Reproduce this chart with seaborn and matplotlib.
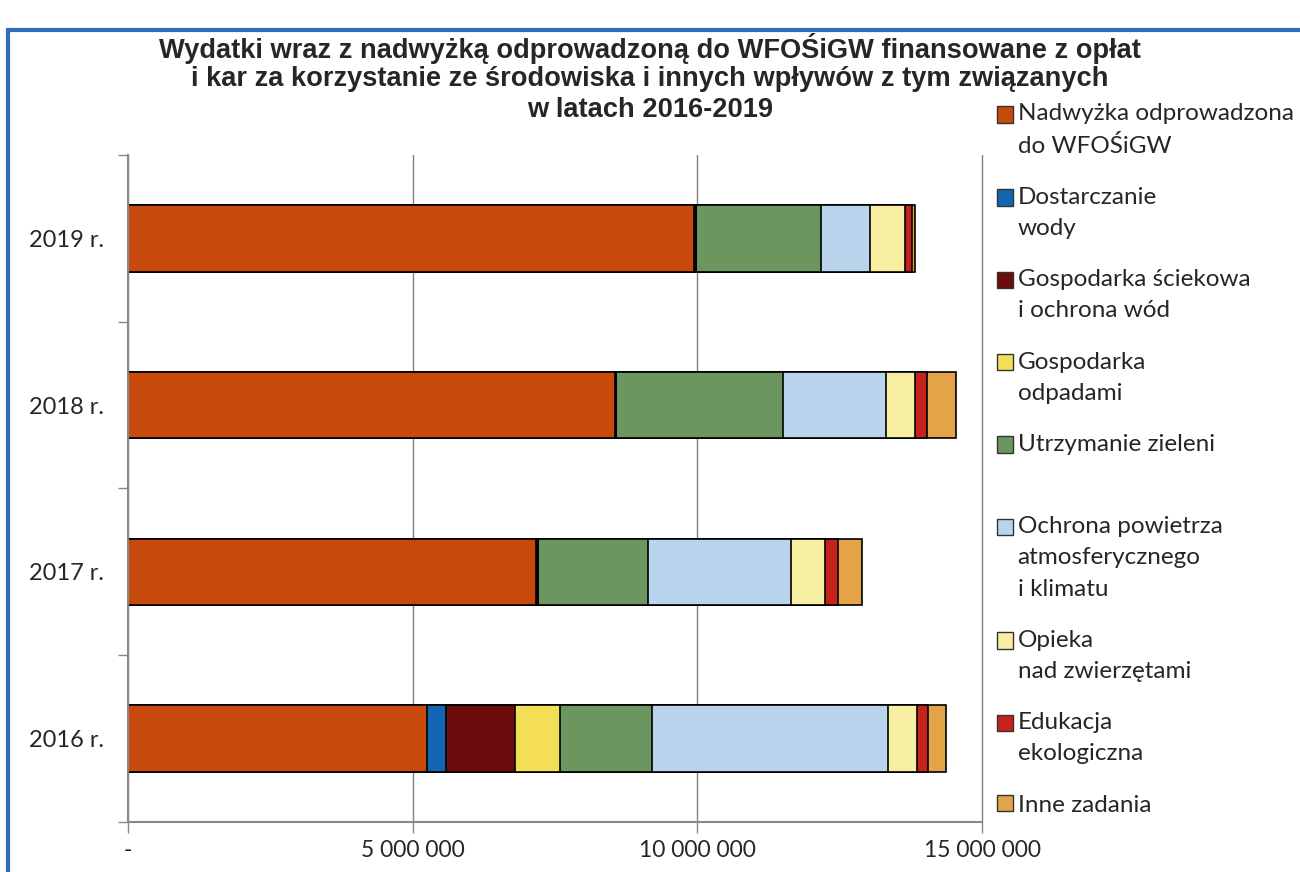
import matplotlib
matplotlib.use("Agg")
from matplotlib import pyplot as plt
from matplotlib.patches import Patch, Rectangle
from matplotlib.legend_handler import HandlerPatch
from matplotlib.ticker import FuncFormatter, FixedLocator
import pandas as pd
import seaborn as sns

# data (PLN)
years = ["2019 r.", "2018 r.", "2017 r.", "2016 r."]
series_names = [
    "Nadwyżka odprowadzona\ndo WFOŚiGW",
    "Dostarczanie\nwody",
    "Gospodarka ściekowa\ni ochrona wód",
    "Gospodarka\nodpadami",
    "Utrzymanie zieleni\n ",
    "Ochrona powietrza\natmosferycznego\ni klimatu",
    "Opieka\nnad zwierzętami",
    "Edukacja\nekologiczna",
    "Inne zadania",
]
nadwyzka = [9940000, 8560000, 7160000, 5250000]
dostarczanie_wody = [0, 0, 0, 330000]
gosp_sciekowa = [30000, 20000, 40000, 1210000]
gosp_odpadami = [0, 0, 0, 800000]
zielen = [2200000, 2920000, 1930000, 1620000]
ochrona_powietrza = [870000, 1810000, 2520000, 4140000]
opieka_zwierzeta = [610000, 510000, 600000, 500000]
edukacja = [120000, 220000, 220000, 200000]
inne = [50000, 500000, 420000, 310000]

title_lines = [
    "Wydatki wraz z nadwyżką odprowadzoną do WFOŚiGW finansowane z opłat",
    "i kar za korzystanie ze środowiska i innych wpływów z tym związanych",
    "w latach 2016-2019",
]

colors = ["#C74A0C", "#1464B4", "#6A0C0C", "#F4DE55", "#6B9660",
          "#BAD4EE", "#F8EFA2", "#C4221A", "#E2A447"]

values = [nadwyzka, dostarczanie_wody, gosp_sciekowa, gosp_odpadami, zielen,
          ochrona_powietrza, opieka_zwierzeta, edukacja, inne]

df = pd.DataFrame({"year": years})
for i, v in enumerate(values):
    df[f"s{i}"] = v
cum = df[[f"s{i}" for i in range(len(values))]].cumsum(axis=1)

sns.set_style("white")
plt.rcParams["font.family"] = ["Lato", "DejaVu Sans"]

fig = plt.figure(figsize=(13, 8.72), dpi=100)
ax = fig.add_axes([128 / 1300, 1 - 822 / 872, (982 - 128) / 1300, (822 - 155) / 872])

# stacked bars: draw cumulative totals from the last series to the first
for i in range(len(values) - 1, -1, -1):
    sns.barplot(x=cum.iloc[:, i], y=df["year"], order=years, orient="h",
                color=colors[i], saturation=1, width=0.4,
                edgecolor="black", linewidth=1.2, ax=ax)

ax.set_xlim(0, 15000000)
ax.set_ylim(3.5, -0.5)
ax.set_xlabel("")
ax.set_ylabel("")
ax.xaxis.set_major_locator(FixedLocator([0, 5000000, 10000000, 15000000]))
ax.xaxis.set_major_formatter(FuncFormatter(
    lambda v, p: "-" if v == 0 else f"{int(v):,}".replace(",", " ")))
ax.grid(axis="x", color="#808080", linewidth=1)
for gl in ax.get_xgridlines():
    gl.set_clip_on(False)
ax.set_axisbelow(True)
for s in ["top", "right"]:
    ax.spines[s].set_visible(False)
for s in ["left", "bottom"]:
    ax.spines[s].set_color("#888888")
    ax.spines[s].set_linewidth(1.5)
ax.tick_params(axis="x", length=8, width=1, color="#888888", pad=5,
               labelsize=16.5, direction="out", bottom=True)
ax.tick_params(axis="y", length=0, pad=17, labelsize=17)
ax.set_yticks([-0.5, 0.5, 1.5, 2.5, 3.5], minor=True)
ax.tick_params(axis="y", which="minor", length=7, width=1, color="#888888",
               left=True, direction="out")

# title, one text per line
for k, line in enumerate(title_lines):
    fig.text(0.5, 1 - (48 + 31 * k) / 872, line, ha="center", va="center",
             fontsize=19.6, fontweight="bold",
             family=["Liberation Sans", "DejaVu Sans"])

# legend: handle sits next to the first line of each label
leg_fs = 17.5
leg_ls = 1.6
line_pt = 19.33 * leg_ls * 0.72


def first_line_handler(nlines):
    shift = (nlines - 1) / 2 * line_pt

    def make(legend, orig_handle, xdescent, ydescent, width, height, fontsize):
        return Rectangle((-xdescent, -ydescent + shift), width, height)
    return HandlerPatch(patch_func=make)


handles = [Patch(facecolor=c, edgecolor="#333333", linewidth=1) for c in colors]
hmap = {h: first_line_handler(lab.count("\n") + 1)
        for h, lab in zip(handles, series_names)}
leg = fig.legend(handles, series_names, loc="upper left", handler_map=hmap,
                 bbox_to_anchor=(997 / 1300, 1 - 103 / 872), frameon=False,
                 fontsize=leg_fs, handlelength=0.65, handleheight=0.65,
                 handletextpad=0.2, labelspacing=1.24, borderpad=0,
                 borderaxespad=0)
for t in leg.get_texts():
    t.set_linespacing(leg_ls)

# blue frame around the chart
fig.patches.append(Rectangle((8 / 1300, -0.05), 1.2, 1 - 30 / 872 + 0.05,
                             transform=fig.transFigure, fill=False,
                             edgecolor="#2F6DB5", linewidth=3))

fig.savefig("out.png", dpi=100)
